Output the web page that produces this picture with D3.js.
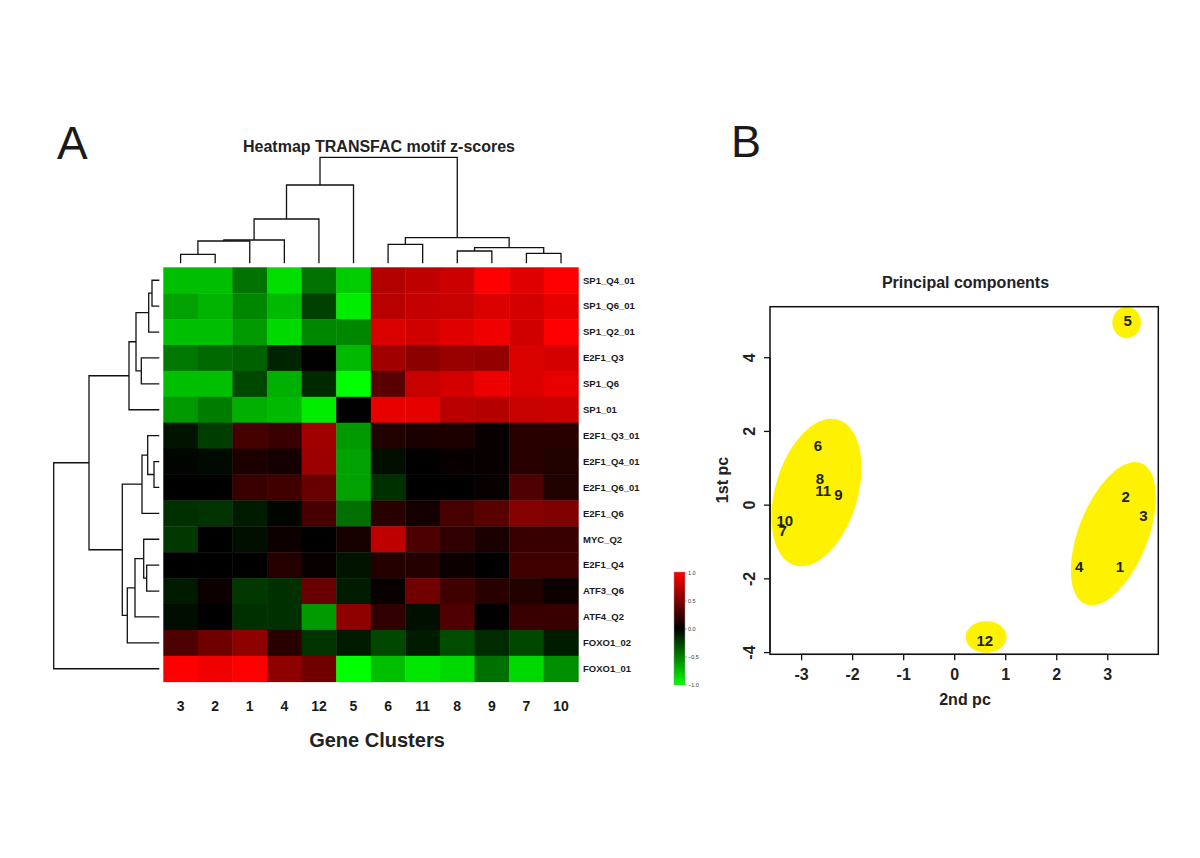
<!DOCTYPE html>
<html>
<head>
<meta charset="utf-8">
<script src="https://cdn.jsdelivr.net/npm/d3@7"></script>
<style>
  html, body { margin: 0; padding: 0; background: #fff; }
  svg { display: block; font-family: "Liberation Sans", Arial, Helvetica, sans-serif; }
</style>
</head>
<body>
<svg id="chart" width="1200" height="858"></svg>
<script>
// ---------------- DATA ----------------
const colLabels = ["3","2","1","4","12","5","6","11","8","9","7","10"];
const rowLabels = ["SP1_Q4_01","SP1_Q6_01","SP1_Q2_01","E2F1_Q3","SP1_Q6","SP1_01",
  "E2F1_Q3_01","E2F1_Q4_01","E2F1_Q6_01","E2F1_Q6","MYC_Q2","E2F1_Q4",
  "ATF3_Q6","ATF4_Q2","FOXO1_02","FOXO1_01"];
// z-scores (rows x columns, in display order)
const zSP1_Q4_01  = [-0.75,-0.75,-0.45,-0.87,-0.45,-0.80, 0.70, 0.75, 0.80, 1.00, 0.88, 1.00];
const zSP1_Q6_01  = [-0.63,-0.70,-0.53,-0.73,-0.25,-0.93, 0.72, 0.77, 0.78, 0.86, 0.83, 0.90];
const zSP1_Q2_01  = [-0.75,-0.75,-0.60,-0.85,-0.53,-0.53, 0.85, 0.82, 0.88, 0.94, 0.82, 1.00];
const zE2F1_Q3    = [-0.47,-0.41,-0.38,-0.14, 0.00,-0.73, 0.63, 0.55, 0.60, 0.58, 0.85, 0.83];
const zSP1_Q6     = [-0.75,-0.75,-0.28,-0.69,-0.16,-1.00, 0.35, 0.78, 0.83, 0.93, 0.86, 0.91];
const zSP1_01     = [-0.60,-0.49,-0.69,-0.73,-0.93, 0.00, 0.91, 0.90, 0.72, 0.71, 0.78, 0.80];
const zE2F1_Q3_01 = [-0.08,-0.24, 0.27, 0.22, 0.63,-0.60, 0.13, 0.10, 0.11, 0.03, 0.16, 0.16];
const zE2F1_Q4_01 = [-0.02,-0.04, 0.11, 0.08, 0.61,-0.63,-0.06, 0.00, 0.03, 0.03, 0.16, 0.13];
const zE2F1_Q6_01 = [ 0.00, 0.00, 0.22, 0.25, 0.41,-0.63,-0.19, 0.00, 0.00, 0.03, 0.31, 0.13];
const zE2F1_Q6    = [-0.19,-0.20,-0.11,-0.02, 0.28,-0.44, 0.16, 0.08, 0.28, 0.35, 0.53, 0.50];
const zMYC_Q2     = [-0.22, 0.00,-0.06, 0.05, 0.00, 0.09, 0.75, 0.30, 0.19, 0.10, 0.22, 0.22];
const zE2F1_Q4    = [ 0.00, 0.00, 0.00, 0.14, 0.03,-0.08, 0.14, 0.14, 0.05, 0.00, 0.25, 0.25];
const zATF3_Q6    = [-0.10, 0.05,-0.22,-0.19, 0.41,-0.11, 0.03, 0.44, 0.25, 0.16, 0.13, 0.05];
const zATF4_Q2    = [-0.05, 0.00,-0.19,-0.19,-0.60, 0.56, 0.19,-0.06, 0.31, 0.00, 0.22, 0.22];
const zFOXO1_02   = [ 0.31, 0.44, 0.56, 0.16,-0.20,-0.10,-0.28,-0.11,-0.30,-0.17,-0.28,-0.11];
const zFOXO1_01   = [ 1.00, 0.94, 1.00, 0.56, 0.44,-1.00,-0.75,-0.90,-0.85,-0.44,-0.85,-0.56];
const zRows = [zSP1_Q4_01,zSP1_Q6_01,zSP1_Q2_01,zE2F1_Q3,zSP1_Q6,zSP1_01,zE2F1_Q3_01,zE2F1_Q4_01,
  zE2F1_Q6_01,zE2F1_Q6,zMYC_Q2,zE2F1_Q4,zATF3_Q6,zATF4_Q2,zFOXO1_02,zFOXO1_01];

// dendrograms (hclust-style merge: negative = leaf (1-based display order), positive = earlier merge)
const colMerge  = [[-1,-2],[1,-3],[2,-4],[3,-5],[4,-6],[-7,-8],[-9,-10],[-11,-12],[7,8],[6,9],[5,10]];
const colHeight = [9.0, 22.3, 23.3, 44.3, 78.3, 19.0, 12.3, 10.0, 15.6, 25.6, 106.0];
const rowMerge  = [[-1,-2],[1,-3],[-4,-5],[2,3],[4,-6],[-8,-9],[-7,6],[7,-10],[-12,-13],[-11,9],[10,-14],[11,-15],[8,12],[5,13],[14,-16]];
const rowHeight = [7.3, 10.6, 18.0, 23.3, 30.3, 5.3, 11.6, 17.3, 12.6, 15.6, 24.3, 32.0, 37.0, 70.3, 105.6];

const legendTicks = [-1.0, -0.5, 0.0, 0.5, 1.0];

// principal components
const pcLabels = ["1","2","3","4","5","6","7","8","9","10","11","12"];
const pc2 = [3.25, 3.36, 3.71, 2.45, 3.40, -2.67, -3.36, -2.63, -2.27, -3.32, -2.57, 0.60];
const pc1 = [-1.67, 0.23, -0.30, -1.67, 4.99, 1.61, -0.70, 0.72, 0.27, -0.42, 0.38, -3.70];
const pcXTicks = [-3,-2,-1,0,1,2,3];
const pcYTicks = [-4,-2,0,2,4];
// cluster ellipses (data units): centre, major-axis vector, minor-axis vector
const ellCx   = [-2.70, 3.12, 3.38, 0.627];
const ellCy   = [0.33, -0.79, 4.94, -3.59];
const ellMajX = [0.423, 0.545, 0.0, 0.0];
const ellMajY = [1.976, 1.913, 0.425, 0.43];
const ellMinX = [0.775, 0.631, 0.28, 0.40];
const ellMinY = [-0.317, -0.344, 0.0, 0.0];

// ---------------- DRAW ----------------
const svg = d3.select("#chart");
const FONT = "'Liberation Sans', Arial, Helvetica, sans-serif";

// panel letters
svg.append("text").attr("x", 57).attr("y", 159).attr("font-size", 46).attr("fill", "#1a1a1a").text("A");
svg.append("text").attr("x", 731).attr("y", 157).attr("font-size", 45).attr("fill", "#1a1a1a").text("B");

// ----- Heatmap -----
const x = d3.scaleBand().domain(d3.range(colLabels.length)).range([163.3, 578.3]);
const y = d3.scaleBand().domain(d3.range(rowLabels.length)).range([267.3, 681.7]);
const color = d3.scaleLinear().domain([-1, 0, 1]).range(["#00ff00", "#000000", "#ff0000"]).clamp(true);

const hm = svg.append("g");
zRows.forEach((row, i) => {
  row.forEach((v, j) => {
    hm.append("rect")
      .attr("x", x(j)).attr("y", y(i))
      .attr("width", x.bandwidth() + 0.4).attr("height", y.bandwidth() + 0.4)
      .attr("fill", color(v));
  });
});

// row labels
svg.append("g").selectAll("text").data(rowLabels).join("text")
  .attr("x", 583).attr("y", (d, i) => y(i) + y.bandwidth() / 2).attr("dy", "0.35em")
  .attr("font-size", 9.5).attr("font-weight", "bold").attr("fill", "#1a1a1a").text(d => d);

// column labels
svg.append("g").selectAll("text").data(colLabels).join("text")
  .attr("x", (d, i) => x(i) + x.bandwidth() / 2).attr("y", 711)
  .attr("text-anchor", "middle").attr("font-size", 14).attr("font-weight", "bold").attr("fill", "#1a1a1a").text(d => d);

svg.append("text").attr("x", 377).attr("y", 746.5).attr("text-anchor", "middle")
  .attr("font-size", 20).attr("font-weight", "bold").attr("fill", "#222").text("Gene Clusters");

svg.append("text").attr("x", 379).attr("y", 152.3).attr("text-anchor", "middle")
  .attr("font-size", 16).attr("font-weight", "bold").attr("fill", "#222").text("Heatmap TRANSFAC motif z-scores");

// ----- Dendrograms -----
function dendroSegments(merge, heights, leafPos, hScale, vertical) {
  // returns list of segments; vertical=true: column dendrogram (leaves along x)
  const pos = [], ht = [];
  const segs = [];
  const childInfo = c => c < 0 ? { p: leafPos(-c - 1), h: 0 } : { p: pos[c - 1], h: ht[c - 1] };
  merge.forEach((m, k) => {
    const a = childInfo(m[0]), b = childInfo(m[1]);
    const h = heights[k];
    pos[k] = (a.p + b.p) / 2; ht[k] = h;
    const H = hScale(h);
    if (vertical) {
      segs.push([[a.p, hScale(a.h)], [a.p, H], [b.p, H], [b.p, hScale(b.h)]]);
    } else {
      segs.push([[hScale(a.h), a.p], [H, a.p], [H, b.p], [hScale(b.h), b.p]]);
    }
  });
  return segs;
}
const line = d3.line();
const colH = d3.scaleLinear().domain([0, 106]).range([263.3, 157.3]);
const colSegs = dendroSegments(colMerge, colHeight, i => x(i) + x.bandwidth() / 2, colH, true);
svg.append("g").selectAll("path").data(colSegs).join("path")
  .attr("d", line).attr("fill", "none").attr("stroke", "#111").attr("stroke-width", 1.3);

const rowH = d3.scaleLinear().domain([0, 105.6]).range([159.3, 53.7]);
const rowSegs = dendroSegments(rowMerge, rowHeight, i => y(i) + y.bandwidth() / 2, rowH, false);
svg.append("g").selectAll("path").data(rowSegs).join("path")
  .attr("d", line).attr("fill", "none").attr("stroke", "#111").attr("stroke-width", 1.3);

// ----- Colour key -----
const defs = svg.append("defs");
const grad = defs.append("linearGradient").attr("id", "keygrad").attr("x1", 0).attr("x2", 0).attr("y1", 1).attr("y2", 0);
d3.range(0, 1.0001, 0.05).forEach(t => {
  grad.append("stop").attr("offset", t).attr("stop-color", color(-1 + 2 * t));
});
const keyY = d3.scaleLinear().domain([-1, 1]).range([684.5, 572.5]);
svg.append("rect").attr("x", 674).attr("y", 572).attr("width", 11).attr("height", 113)
  .attr("fill", "url(#keygrad)").attr("stroke", "#999").attr("stroke-width", 0.5);
const keyAxis = svg.append("g").attr("transform", "translate(685,0)")
  .call(d3.axisRight(keyY).tickValues(legendTicks).tickSize(2).tickFormat(d3.format(".1f")));
keyAxis.select(".domain").remove();
keyAxis.selectAll("line").attr("stroke", "#555").attr("stroke-width", 0.5);
keyAxis.selectAll("text").attr("font-size", 5.5).attr("font-family", FONT).attr("fill", "#333").attr("x", 3);

// ----- PCA -----
const px = d3.scaleLinear().domain([-3.61, 4.0]).range([770, 1158.3]);
const py = d3.scaleLinear().domain([-4.06, 5.37]).range([654.3, 306.7]);

defs.append("clipPath").attr("id", "pcclip").append("rect")
  .attr("x", 770).attr("y", 306.7).attr("width", 388.3).attr("height", 347.6);

const ellG = svg.append("g").attr("clip-path", "url(#pcclip)");
const tSteps = d3.range(0, 73).map(k => k / 72 * 2 * Math.PI);
ellCx.forEach((cx, i) => {
  const pts = tSteps.map(t => [
    px(cx + ellMajX[i] * Math.cos(t) + ellMinX[i] * Math.sin(t)),
    py(ellCy[i] + ellMajY[i] * Math.cos(t) + ellMinY[i] * Math.sin(t))
  ]);
  ellG.append("path").attr("d", d3.line().curve(d3.curveLinearClosed)(pts)).attr("fill", "#fff200");
});

svg.append("g").selectAll("text").data(pcLabels).join("text")
  .attr("x", (d, i) => px(pc2[i])).attr("y", (d, i) => py(pc1[i])).attr("dy", "0.36em")
  .attr("text-anchor", "middle").attr("font-size", 15).attr("font-weight", "bold").attr("fill", "#222").text(d => d);

// box
svg.append("rect").attr("x", 770).attr("y", 306.7).attr("width", 388.3).attr("height", 347.6)
  .attr("fill", "none").attr("stroke", "#111").attr("stroke-width", 1.5);

// x axis
const xAx = svg.append("g").attr("transform", "translate(0,654.3)")
  .call(d3.axisBottom(px).tickValues(pcXTicks).tickSize(6).tickPadding(8).tickFormat(d3.format("d")));
xAx.select(".domain").attr("d", `M${px(-3)},0H${px(3)}`).attr("stroke", "#111").attr("stroke-width", 1.3);
xAx.selectAll("line").attr("stroke", "#111").attr("stroke-width", 1.3);
xAx.selectAll("text").attr("font-size", 16).attr("font-weight", "bold").attr("font-family", FONT).attr("fill", "#222")
  .text(d => d < 0 ? "-" + Math.abs(d) : d);

// y axis
const yAx = svg.append("g").attr("transform", "translate(770,0)")
  .call(d3.axisLeft(py).tickValues(pcYTicks).tickSize(6).tickFormat(d3.format("d")));
yAx.select(".domain").attr("d", `M0,${py(-4)}V${py(4)}`).attr("stroke", "#111").attr("stroke-width", 1.3);
yAx.selectAll("line").attr("stroke", "#111").attr("stroke-width", 1.3);
yAx.selectAll("text").remove();
yAx.selectAll(".tick").append("text")
  .attr("transform", "translate(-15,0) rotate(-90)")
  .attr("text-anchor", "middle").attr("font-size", 16).attr("font-weight", "bold")
  .attr("font-family", FONT).attr("fill", "#222")
  .text(d => d < 0 ? "-" + Math.abs(d) : d);

svg.append("text").attr("x", 965).attr("y", 705).attr("text-anchor", "middle")
  .attr("font-size", 16).attr("font-weight", "bold").attr("fill", "#222").text("2nd pc");
svg.append("text").attr("transform", "translate(728,480) rotate(-90)").attr("text-anchor", "middle")
  .attr("font-size", 16).attr("font-weight", "bold").attr("fill", "#222").text("1st pc");
svg.append("text").attr("x", 965.5).attr("y", 288.3).attr("text-anchor", "middle")
  .attr("font-size", 16).attr("font-weight", "bold").attr("fill", "#222").text("Principal components");
</script>
</body>
</html>
